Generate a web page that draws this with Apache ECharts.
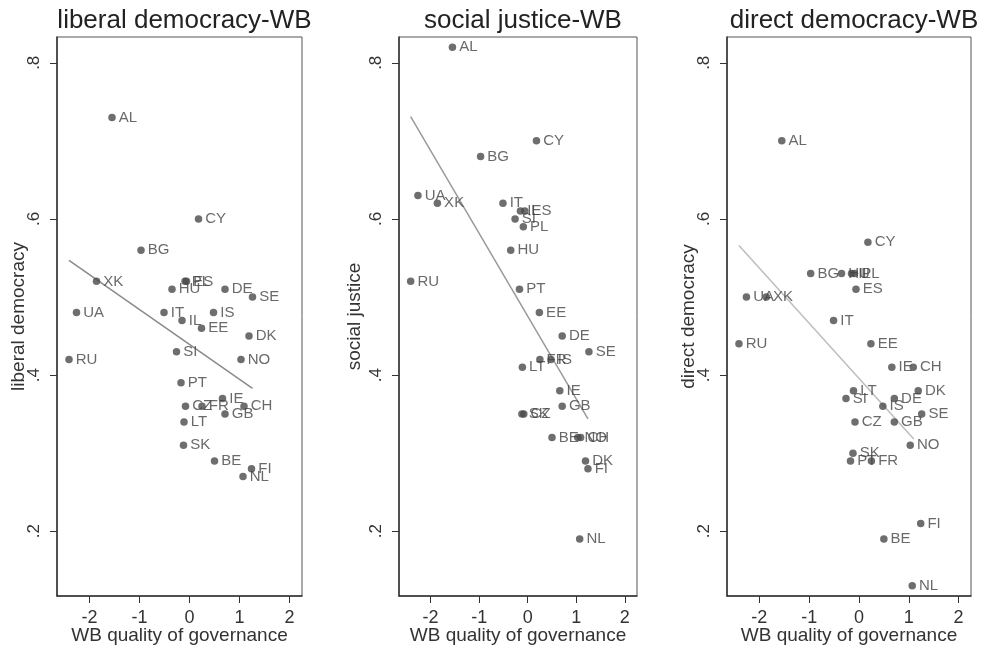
<!DOCTYPE html>
<html>
<head>
<meta charset="utf-8">
<script src="https://cdn.jsdelivr.net/npm/echarts@6/dist/echarts.min.js"></script>
<style>
  html, body { margin: 0; padding: 0; background: #fff; }
  #chart { width: 981px; height: 647px; }
</style>
</head>
<body>
<div id="chart"></div>
<script>
// Country codes and their World Bank quality-of-governance score
const countries = ['AL','BE','BG','CH','CY','CZ','DE','DK','EE','ES','FI','FR','GB','HU','IE',
                   'IL','IS','IT','LT','NL','NO','PL','PT','RU','SE','SI','SK','UA','XK'];
const wbGovernance = [-1.55, 0.50, -0.97, 1.09, 0.18, -0.08, 0.71, 1.19, 0.24, -0.06, 1.24, 0.25, 0.71, -0.35, 0.66,
                      -0.15, 0.48, -0.51, -0.11, 1.07, 1.03, -0.09, -0.17, -2.41, 1.26, -0.26, -0.12, -2.26, -1.86];

// Democracy dimension scores, same country order
const liberalDemocracy = [0.73, 0.29, 0.56, 0.36, 0.60, 0.36, 0.51, 0.45, 0.46, 0.52, 0.28, 0.36, 0.35, 0.51, 0.37,
                          0.47, 0.48, 0.48, 0.34, 0.27, 0.42, 0.52, 0.39, 0.42, 0.50, 0.43, 0.31, 0.48, 0.52];
const socialJustice = [0.82, 0.32, 0.68, 0.32, 0.70, 0.35, 0.45, 0.29, 0.48, 0.61, 0.28, 0.42, 0.36, 0.56, 0.38,
                       0.61, 0.42, 0.62, 0.41, 0.19, 0.32, 0.59, 0.51, 0.52, 0.43, 0.60, 0.35, 0.63, 0.62];
const directDemocracy = [0.70, 0.19, 0.53, 0.41, 0.57, 0.34, 0.37, 0.38, 0.44, 0.51, 0.21, 0.29, 0.34, 0.53, 0.41,
                         0.53, 0.36, 0.47, 0.38, 0.13, 0.31, 0.53, 0.29, 0.44, 0.35, 0.37, 0.30, 0.50, 0.50];

// Linear fit endpoints [x, y]
const liberalFit = [[-2.41, 0.547], [1.26, 0.383]];
const socialFit = [[-2.41, 0.731], [1.24, 0.344]];
const directFit = [[-2.41, 0.566], [1.10, 0.318]];

// Axis ticks
const xTicks = [-2, -1, 0, 1, 2];
const yTicks = [0.2, 0.4, 0.6, 0.8];

const panels = [
  { title: 'liberal democracy-WB', yName: 'liberal democracy', values: liberalDemocracy, fit: liberalFit,
    left: 57, width: 245, nameGap: 29, fitColor: '#8a8a8a' },
  { title: 'social justice-WB', yName: 'social justice', values: socialJustice, fit: socialFit,
    left: 399, width: 238, nameGap: 35, fitColor: '#9a9a9a' },
  { title: 'direct democracy-WB', yName: 'direct democracy', values: directDemocracy, fit: directFit,
    left: 727, width: 244, nameGap: 29, fitColor: '#bdbdbd' }
];

const FONT = 'Liberation Sans, Arial, sans-serif';
const TOP = 37, HEIGHT = 559;

const option = {
  animation: false,
  backgroundColor: '#ffffff',
  textStyle: { fontFamily: FONT },
  title: panels.map(p => ({
    text: p.title,
    left: p.left + p.width / 2,
    top: 3,
    textAlign: 'center',
    textStyle: { fontFamily: FONT, fontSize: 26, fontWeight: 'normal', color: '#222' }
  })),
  grid: panels.map(p => ({
    left: p.left, top: TOP, width: p.width, height: HEIGHT,
    show: true, borderColor: '#555', borderWidth: 1, containLabel: false,
    outerBoundsMode: 'none'
  })),
  xAxis: panels.map((p, i) => ({
    type: 'value', gridIndex: i, min: -2.65, max: 2.25,
    splitLine: { show: false },
    axisLine: { show: true, onZero: false, lineStyle: { color: '#333', width: 1.5 } },
    axisTick: { show: true, length: 7, customValues: xTicks, lineStyle: { color: '#333' } },
    axisLabel: { customValues: xTicks, fontSize: 18, color: '#333', margin: 13, formatter: v => String(v) },
    name: 'WB quality of governance', nameLocation: 'middle', nameGap: 30, nameMoveOverlap: false,
    nameTextStyle: { fontSize: 19, color: '#333', fontFamily: FONT }
  })),
  yAxis: panels.map((p, i) => ({
    type: 'value', gridIndex: i, min: 0.117, max: 0.833,
    splitLine: { show: false },
    axisLine: { show: true, onZero: false, lineStyle: { color: '#333', width: 1.5 } },
    axisTick: { show: true, length: 7, customValues: yTicks, lineStyle: { color: '#333' } },
    axisLabel: { customValues: yTicks, rotate: 90, fontSize: 17, color: '#333', margin: 14,
                 formatter: v => v.toFixed(1).replace(/^0/, '') },
    name: p.yName, nameLocation: 'middle', nameRotate: 90, nameGap: p.nameGap, nameMoveOverlap: false,
    nameTextStyle: { fontSize: 19, color: '#333', fontFamily: FONT }
  })),
  series: []
};

panels.forEach((p, i) => {
  option.series.push({
    type: 'line', xAxisIndex: i, yAxisIndex: i,
    data: p.fit, symbol: 'none', silent: true, z: 1,
    lineStyle: { color: p.fitColor, width: 1.5 }
  });
  option.series.push({
    type: 'scatter', xAxisIndex: i, yAxisIndex: i, z: 2,
    symbolSize: 7.5,
    itemStyle: { color: '#4a4a4a' },
    data: countries.map((c, k) => [wbGovernance[k], p.values[k], c]),
    label: {
      show: true, position: 'right', distance: 3,
      formatter: d => d.value[2],
      fontSize: 15, color: '#444', fontFamily: FONT
    }
  });
});

const chart = echarts.init(document.getElementById('chart'), null, { renderer: 'canvas' });
chart.setOption(option);
</script>
</body>
</html>
